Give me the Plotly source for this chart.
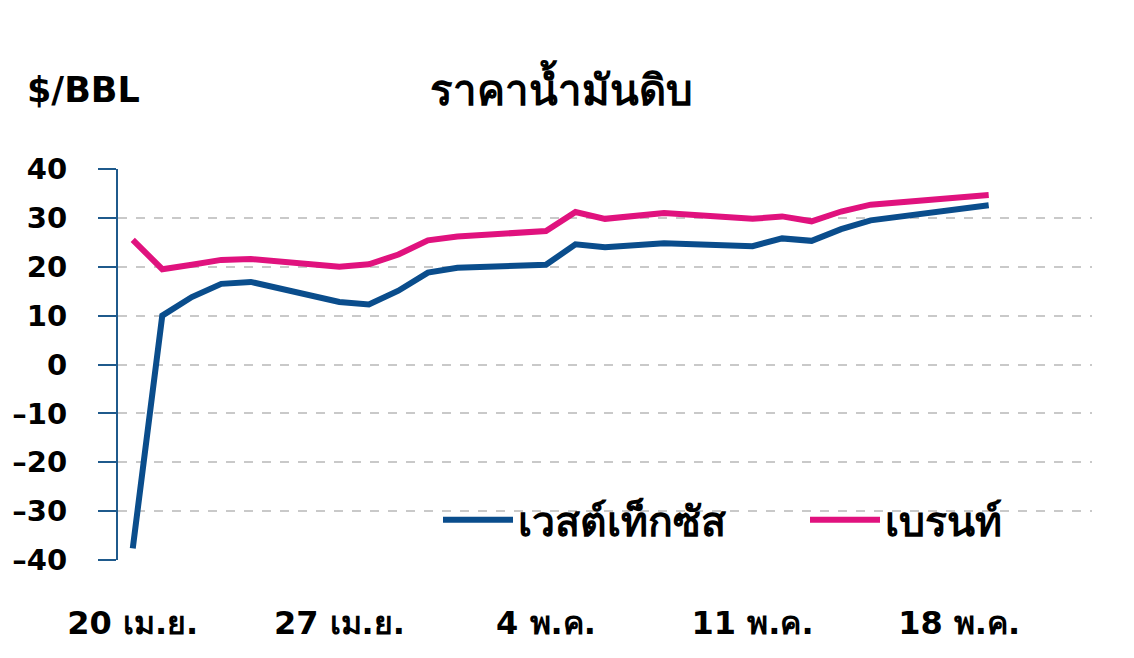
import plotly.graph_objects as go

dates = ["2020-04-20", "2020-04-21", "2020-04-22", "2020-04-23", "2020-04-24",
         "2020-04-27", "2020-04-28", "2020-04-29", "2020-04-30", "2020-05-01",
         "2020-05-04", "2020-05-05", "2020-05-06", "2020-05-07", "2020-05-08",
         "2020-05-11", "2020-05-12", "2020-05-13", "2020-05-14", "2020-05-15",
         "2020-05-18", "2020-05-19"]
wti = [-37.6, 10.0, 13.8, 16.5, 16.9, 12.8, 12.3, 15.1, 18.8, 19.8, 20.4,
       24.6, 24.0, 24.3, 24.8, 24.2, 25.8, 25.3, 27.7, 29.5, 31.9, 32.6]
brent = [25.5, 19.5, 20.4, 21.4, 21.6, 20.0, 20.5, 22.5, 25.4, 26.2, 27.3,
         31.2, 29.8, 30.5, 31.0, 29.8, 30.3, 29.3, 31.3, 32.7, 34.4, 34.7]

series_names = ["เวสต์เท็กซัส", "เบรนท์"]
tick_dates = ["2020-04-20", "2020-04-27", "2020-05-04", "2020-05-11", "2020-05-18"]
tick_labels = ["20 เม.ย.", "27 เม.ย.", "4 พ.ค.", "11 พ.ค.", "18 พ.ค."]
y_ticks = [-40, -30, -20, -10, 0, 10, 20, 30, 40]
y_tick_labels = ["–40", "–30", "–20", "–10", "0", "10", "20", "30", "40"]

BLUE = "#0a4d8c"
PINK = "#e0127e"
AXIS = "#1f5a8c"
FONT = "DejaVu Sans, Liberation Sans, sans-serif"

# the page body adds an 8px offset; figure coords = page coords - 8
L, R, T, B = 110, 50, 161, 106
PW = 1134 - L - R
PH = 658 - T - B

x_mid = [d + "T12:00" for d in dates]

fig = go.Figure()
fig.add_trace(go.Scatter(x=x_mid, y=wti, name="<b>%s</b>" % series_names[0], mode="lines",
                         line=dict(color=BLUE, width=6), legend="legend"))
fig.add_trace(go.Scatter(x=x_mid, y=brent, name="<b>%s</b>" % series_names[1], mode="lines",
                         line=dict(color=PINK, width=6), legend="legend2"))

xrange = ["2020-04-20", "2020-05-23"]

legend_common = dict(orientation="h", yanchor="middle", xanchor="left",
                     bgcolor="rgba(255,255,255,0)", font=dict(size=41, family=FONT),
                     itemwidth=70)

fig.update_layout(
    width=1134, height=658,
    margin=dict(l=L, r=R, t=T, b=B),
    paper_bgcolor="white", plot_bgcolor="white",
    font=dict(family=FONT, color="black"),
    title=dict(text="<b>ราคาน้ำมันดิบ</b>", x=0.488, xanchor="center",
               y=1 - 82 / 658, yanchor="middle", font=dict(size=42, family=FONT)),
    xaxis=dict(range=xrange, tickvals=[d + "T12:00" for d in tick_dates],
               ticktext=["<b>%s</b>" % t for t in tick_labels],
               ticks="", showline=False, showgrid=False, zeroline=False,
               tickfont=dict(size=32, family=FONT, color="black"),
               ticklabelstandoff=41, automargin=False),
    xaxis2=dict(range=xrange, overlaying="x", anchor="free", position=0.5,
                side="bottom", tickvals=tick_dates[1:], showticklabels=False,
                ticks="outside", ticklen=16, tickwidth=2, tickcolor=AXIS,
                showline=True, linecolor=AXIS, linewidth=2, showgrid=False,
                zeroline=False, automargin=False),
    yaxis=dict(range=[-40, 40], tickvals=y_ticks,
               ticktext=["<b>%s</b>" % t for t in y_tick_labels],
               showline=True, linecolor=AXIS, linewidth=2,
               ticks="outside", ticklen=18, tickwidth=2, tickcolor=AXIS,
               showgrid=True, gridcolor="#c9c9c9", gridwidth=1.5, griddash="dash",
               zeroline=False, tickfont=dict(size=29, family=FONT, color="black"),
               ticklabelstandoff=25, automargin=False),
    legend=dict(x=(430 - L) / PW, y=40 / PH, **legend_common),
    legend2=dict(x=(797 - L) / PW, y=40 / PH, **legend_common),
    showlegend=True,
    annotations=[dict(text="<b>$/BBL</b>", xref="paper", yref="paper",
                      x=(17 - L) / PW, y=1 + (T - 82) / PH,
                      xanchor="left", yanchor="middle", showarrow=False,
                      font=dict(size=35, family=FONT, color="black"))],
)

fig.write_html("out.html")
